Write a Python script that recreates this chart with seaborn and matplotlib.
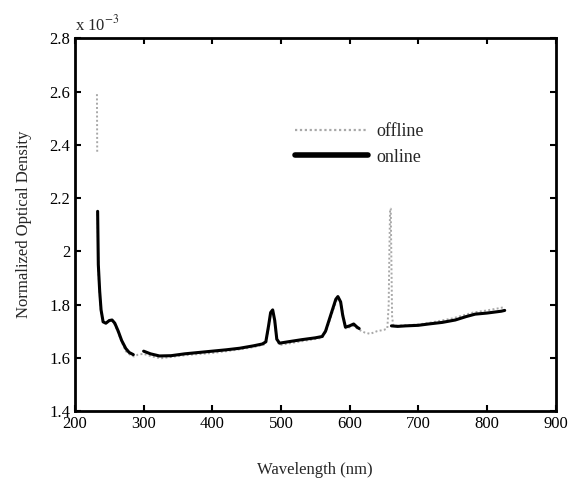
import pandas as pd
import numpy as np
import matplotlib
matplotlib.use('Agg')
import matplotlib.pyplot as plt
from matplotlib.lines import Line2D
import seaborn as sns

# Values in units of 1e-3 (axis carries the "x 10^-3" factor)
# online spectrum, split into segments where the trace has gaps
online_wl = [
    [233, 234, 236, 238, 241, 245, 250, 254, 258, 263, 268, 274, 279, 285],
    [300, 310, 323, 340, 360, 380, 400, 420, 440, 460, 473, 478, 482, 485, 488,
     491, 494, 498, 510, 530, 550, 560, 565, 570, 575, 580, 583, 587, 590, 594,
     600, 606, 611, 614],
    [661, 670, 682, 700, 715, 735, 754, 770, 783, 800, 821, 826],
]
online_od = [
    [2.15, 1.95, 1.85, 1.78, 1.735, 1.73, 1.74, 1.742, 1.73, 1.70, 1.665, 1.635, 1.62, 1.612],
    [1.625, 1.615, 1.607, 1.608, 1.615, 1.62, 1.625, 1.63, 1.636, 1.645, 1.652, 1.66, 1.72,
     1.77, 1.78, 1.74, 1.67, 1.655, 1.66, 1.668, 1.675, 1.68, 1.70, 1.74, 1.78, 1.82, 1.83,
     1.81, 1.76, 1.715, 1.72, 1.727, 1.715, 1.71],
    [1.72, 1.718, 1.72, 1.722, 1.727, 1.733, 1.742, 1.755, 1.764, 1.768, 1.775, 1.778],
]

# offline spectrum
offline_wl = [
    [232, 232.4],
    [233, 234, 236, 238, 241, 246, 251, 256, 262, 268, 274, 280, 286, 292, 300, 312, 325,
     345, 370, 400, 430, 460, 478, 482, 485, 488, 491, 494, 498, 530, 560, 566, 571, 576,
     581, 584, 588, 591, 595, 606, 614, 622, 630, 640, 650, 655, 657, 658, 659, 660, 661,
     662, 664, 680, 700, 720, 750, 780, 800, 815, 825],
]
offline_od = [
    [2.59, 2.37],
    [2.14, 1.93, 1.84, 1.77, 1.73, 1.73, 1.745, 1.735, 1.70, 1.66, 1.625, 1.612, 1.605,
     1.612, 1.615, 1.605, 1.598, 1.605, 1.612, 1.618, 1.628, 1.64, 1.652, 1.71, 1.765,
     1.775, 1.735, 1.665, 1.648, 1.662, 1.675, 1.70, 1.74, 1.78, 1.815, 1.825, 1.80, 1.755,
     1.71, 1.72, 1.705, 1.695, 1.69, 1.70, 1.705, 1.71, 1.80, 2.0, 2.16, 2.16, 1.95, 1.75,
     1.72, 1.722, 1.725, 1.733, 1.748, 1.77, 1.778, 1.785, 1.79],
]


def to_frame(wls, ods):
    rows = []
    for seg, (w, o) in enumerate(zip(wls, ods)):
        for a, b in zip(w, o):
            rows.append((a, b, seg))
    return pd.DataFrame(rows, columns=['wl', 'od', 'seg'])


on_df = to_frame(online_wl, online_od)
off_df = to_frame(offline_wl, offline_od)

sns.set_style('ticks')
plt.rcParams['font.family'] = ['Liberation Serif', 'DejaVu Serif']
plt.rcParams['mathtext.fontset'] = 'stix'

fig, ax = plt.subplots(figsize=(5.68, 4.78), dpi=100)
fig.subplots_adjust(left=0.132, right=0.978, bottom=0.140, top=0.920)

sns.lineplot(data=off_df, x='wl', y='od', units='seg', estimator=None, ax=ax,
             color='#a8a8a8', linewidth=1.4, linestyle=(0, (1, 1.2)), sort=False, legend=False)
sns.lineplot(data=on_df, x='wl', y='od', units='seg', estimator=None, ax=ax,
             color='black', linewidth=2.2, sort=False, legend=False)

ax.set_xlim(200, 900)
ax.set_ylim(1.4, 2.8)
ax.set_xticks(np.arange(200, 901, 100))
ax.set_yticks(np.arange(1.4, 2.81, 0.2))
ax.set_yticklabels([f'{v:g}' for v in np.round(np.arange(1.4, 2.81, 0.2), 1)])
ax.tick_params(direction='in', length=4, width=1.5, top=True, right=True,
               labelsize=12, colors='black')
for s in ax.spines.values():
    s.set_linewidth(2)
    s.set_color('black')

ax.set_xlabel('Wavelength (nm)', fontsize=12, labelpad=22)
ax.set_ylabel('Normalized Optical Density', fontsize=12, labelpad=12)
ax.text(0.0, 1.01, r'x 10$^{-3}$', transform=ax.transAxes, fontsize=12,
        ha='left', va='bottom')

handles = [Line2D([], [], color='#a8a8a8', linewidth=1.6, linestyle=(0, (1, 1.2))),
           Line2D([], [], color='black', linewidth=4)]
ax.legend(handles, ['offline', 'online'], loc='upper left', bbox_to_anchor=(0.425, 0.815),
          frameon=False, fontsize=13, handlelength=4.0, labelspacing=0.45, handletextpad=0.5)

plt.savefig('out.png', dpi=100)
plt.close()
